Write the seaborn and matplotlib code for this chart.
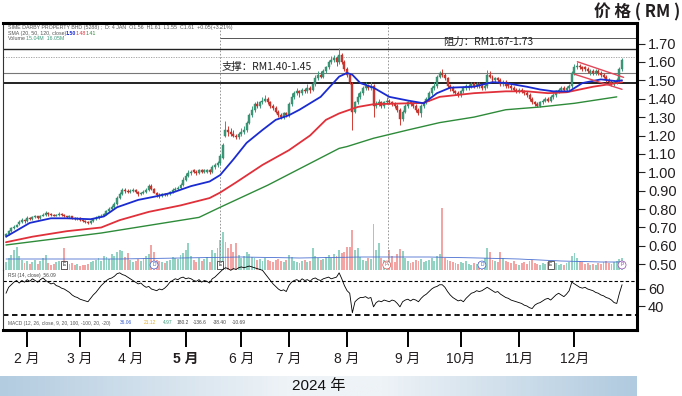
import numpy as np
import pandas as pd
import matplotlib
matplotlib.use("Agg")
import matplotlib.pyplot as plt
import seaborn as sns
from matplotlib.colors import LinearSegmentedColormap

# ---------------- data (daily, late Jan -> end Dec 2024) ----------------
opens = [
    0.655, 0.665, 0.680, 0.695, 0.705, 0.720, 0.730, 0.740, 0.735, 0.750,
    0.745, 0.755, 0.760, 0.750, 0.765, 0.770, 0.780, 0.775, 0.770, 0.765,
    0.770, 0.775, 0.770, 0.760, 0.755, 0.760, 0.750, 0.745, 0.750, 0.740,
    0.735, 0.730, 0.725, 0.735, 0.745, 0.750, 0.760, 0.765, 0.775, 0.790,
    0.800, 0.810, 0.830, 0.860, 0.880, 0.905, 0.900, 0.895, 0.900, 0.905,
    0.895, 0.880, 0.885, 0.895, 0.905, 0.925, 0.910, 0.890, 0.875, 0.870,
    0.880, 0.875, 0.880, 0.895, 0.905, 0.910, 0.915, 0.930, 0.960, 0.980,
    0.995, 1.01, 1.00, 0.995, 1.01, 1.00, 1.00, 1.01, 1.00, 1.03,
    1.04, 1.05, 1.08, 1.20, 1.23, 1.22, 1.21, 1.20, 1.19, 1.21,
    1.22, 1.23, 1.27, 1.31, 1.34, 1.37, 1.36, 1.38, 1.39, 1.40,
    1.38, 1.36, 1.35, 1.33, 1.31, 1.30, 1.32, 1.31, 1.37, 1.41,
    1.43, 1.44, 1.43, 1.45, 1.44, 1.46, 1.45, 1.48, 1.51, 1.53,
    1.52, 1.55, 1.57, 1.60, 1.61, 1.62, 1.60, 1.64, 1.60, 1.56,
    1.53, 1.48, 1.33, 1.38, 1.41, 1.43, 1.46, 1.47, 1.46, 1.47,
    1.36, 1.37, 1.38, 1.36, 1.38, 1.39, 1.38, 1.37, 1.36, 1.34,
    1.29, 1.33, 1.36, 1.38, 1.37, 1.36, 1.34, 1.32, 1.36, 1.38,
    1.40, 1.43, 1.46, 1.47, 1.52, 1.54, 1.53, 1.51, 1.47, 1.46,
    1.44, 1.43, 1.42, 1.44, 1.46, 1.46, 1.47, 1.48, 1.47, 1.48,
    1.47, 1.46, 1.47, 1.53, 1.52, 1.50, 1.51, 1.50, 1.48, 1.49,
    1.48, 1.47, 1.46, 1.45, 1.44, 1.45, 1.44, 1.43, 1.42, 1.40,
    1.38, 1.37, 1.36, 1.38, 1.39, 1.40, 1.39, 1.41, 1.42, 1.44,
    1.45, 1.46, 1.45, 1.46, 1.47, 1.54, 1.57, 1.58, 1.57, 1.57,
    1.56, 1.54, 1.55, 1.54, 1.55, 1.54, 1.53, 1.52, 1.50, 1.49,
    1.48, 1.49, 1.50, 1.56,
]
highs = [
    0.670, 0.685, 0.700, 0.715, 0.720, 0.740, 0.750, 0.745, 0.760, 0.755,
    0.765, 0.770, 0.765, 0.770, 0.780, 0.790, 0.785, 0.780, 0.775, 0.775,
    0.785, 0.780, 0.775, 0.765, 0.770, 0.765, 0.755, 0.755, 0.755, 0.745,
    0.740, 0.735, 0.740, 0.750, 0.760, 0.765, 0.775, 0.780, 0.795, 0.810,
    0.820, 0.840, 0.870, 0.895, 0.915, 0.915, 0.910, 0.910, 0.915, 0.910,
    0.900, 0.895, 0.905, 0.915, 0.935, 0.935, 0.915, 0.895, 0.885, 0.890,
    0.885, 0.890, 0.900, 0.915, 0.920, 0.925, 0.940, 0.975, 0.995, 1.01,
    1.01, 1.02, 1.01, 1.02, 1.02, 1.02, 1.02, 1.02, 1.04, 1.05,
    1.06, 1.10, 1.16, 1.28, 1.25, 1.24, 1.23, 1.21, 1.22, 1.24,
    1.25, 1.28, 1.32, 1.36, 1.38, 1.39, 1.39, 1.41, 1.42, 1.41,
    1.39, 1.37, 1.36, 1.34, 1.32, 1.33, 1.33, 1.38, 1.43, 1.44,
    1.46, 1.45, 1.46, 1.46, 1.48, 1.47, 1.49, 1.53, 1.55, 1.55,
    1.56, 1.58, 1.61, 1.63, 1.64, 1.63, 1.675, 1.65, 1.61, 1.57,
    1.54, 1.49, 1.39, 1.43, 1.44, 1.47, 1.49, 1.48, 1.49, 1.48,
    1.39, 1.40, 1.39, 1.39, 1.41, 1.40, 1.39, 1.38, 1.37, 1.35,
    1.34, 1.37, 1.39, 1.39, 1.38, 1.37, 1.35, 1.37, 1.39, 1.41,
    1.44, 1.47, 1.49, 1.53, 1.55, 1.56, 1.54, 1.52, 1.48, 1.47,
    1.45, 1.44, 1.45, 1.47, 1.48, 1.48, 1.49, 1.49, 1.49, 1.49,
    1.48, 1.48, 1.555, 1.55, 1.53, 1.52, 1.52, 1.51, 1.50, 1.50,
    1.49, 1.48, 1.47, 1.46, 1.46, 1.46, 1.45, 1.44, 1.43, 1.41,
    1.39, 1.38, 1.39, 1.40, 1.41, 1.41, 1.42, 1.43, 1.45, 1.46,
    1.47, 1.47, 1.47, 1.48, 1.55, 1.59, 1.60, 1.59, 1.58, 1.58,
    1.57, 1.56, 1.56, 1.56, 1.56, 1.55, 1.54, 1.53, 1.51, 1.50,
    1.50, 1.51, 1.57, 1.62,
]
lows = [
    0.650, 0.660, 0.675, 0.690, 0.700, 0.715, 0.725, 0.725, 0.730, 0.740,
    0.740, 0.750, 0.745, 0.745, 0.760, 0.765, 0.765, 0.765, 0.760, 0.760,
    0.765, 0.765, 0.755, 0.750, 0.750, 0.745, 0.740, 0.740, 0.735, 0.730,
    0.725, 0.720, 0.720, 0.730, 0.740, 0.745, 0.755, 0.760, 0.770, 0.785,
    0.795, 0.805, 0.825, 0.855, 0.875, 0.890, 0.890, 0.890, 0.895, 0.885,
    0.870, 0.875, 0.880, 0.890, 0.900, 0.905, 0.885, 0.865, 0.860, 0.865,
    0.870, 0.870, 0.875, 0.890, 0.900, 0.905, 0.910, 0.925, 0.955, 0.975,
    0.985, 0.995, 0.985, 0.990, 0.995, 0.995, 0.995, 0.990, 0.995, 1.02,
    1.03, 1.04, 1.07, 1.19, 1.20, 1.20, 1.19, 1.18, 1.18, 1.20,
    1.21, 1.22, 1.26, 1.30, 1.33, 1.35, 1.35, 1.37, 1.38, 1.37,
    1.35, 1.34, 1.32, 1.30, 1.29, 1.29, 1.30, 1.30, 1.36, 1.40,
    1.42, 1.41, 1.42, 1.43, 1.43, 1.43, 1.44, 1.47, 1.50, 1.51,
    1.51, 1.54, 1.56, 1.59, 1.60, 1.58, 1.59, 1.59, 1.55, 1.52,
    1.48, 1.23, 1.32, 1.37, 1.40, 1.42, 1.45, 1.45, 1.45, 1.30,
    1.35, 1.36, 1.35, 1.35, 1.37, 1.37, 1.36, 1.35, 1.33, 1.255,
    1.28, 1.32, 1.35, 1.36, 1.35, 1.33, 1.31, 1.30, 1.35, 1.37,
    1.39, 1.42, 1.45, 1.46, 1.51, 1.52, 1.50, 1.46, 1.44, 1.43,
    1.42, 1.41, 1.41, 1.43, 1.45, 1.45, 1.46, 1.46, 1.46, 1.46,
    1.45, 1.45, 1.46, 1.51, 1.49, 1.49, 1.49, 1.47, 1.47, 1.46,
    1.46, 1.45, 1.44, 1.43, 1.43, 1.43, 1.42, 1.41, 1.39, 1.37,
    1.36, 1.355, 1.355, 1.37, 1.38, 1.38, 1.38, 1.40, 1.41, 1.43,
    1.44, 1.44, 1.44, 1.45, 1.46, 1.53, 1.56, 1.56, 1.55, 1.55,
    1.54, 1.53, 1.53, 1.53, 1.53, 1.52, 1.51, 1.49, 1.48, 1.47,
    1.47, 1.48, 1.49, 1.55,
]
closes = [
    0.665, 0.680, 0.695, 0.705, 0.715, 0.730, 0.740, 0.735, 0.750, 0.745,
    0.755, 0.760, 0.750, 0.765, 0.770, 0.780, 0.775, 0.770, 0.765, 0.770,
    0.775, 0.770, 0.760, 0.755, 0.760, 0.750, 0.745, 0.750, 0.740, 0.735,
    0.730, 0.725, 0.735, 0.745, 0.750, 0.760, 0.765, 0.775, 0.790, 0.800,
    0.810, 0.830, 0.860, 0.880, 0.905, 0.900, 0.895, 0.900, 0.905, 0.895,
    0.880, 0.885, 0.895, 0.905, 0.925, 0.910, 0.890, 0.875, 0.870, 0.880,
    0.875, 0.880, 0.895, 0.905, 0.910, 0.915, 0.930, 0.960, 0.980, 0.995,
    1.00, 1.00, 0.995, 1.01, 1.00, 1.01, 1.01, 1.00, 1.03, 1.04,
    1.05, 1.09, 1.15, 1.23, 1.22, 1.21, 1.20, 1.19, 1.21, 1.22,
    1.23, 1.27, 1.31, 1.34, 1.37, 1.36, 1.38, 1.39, 1.40, 1.38,
    1.36, 1.35, 1.33, 1.31, 1.30, 1.32, 1.31, 1.37, 1.41, 1.43,
    1.44, 1.43, 1.45, 1.44, 1.46, 1.45, 1.48, 1.51, 1.53, 1.52,
    1.55, 1.57, 1.60, 1.61, 1.62, 1.60, 1.64, 1.60, 1.56, 1.53,
    1.49, 1.33, 1.38, 1.41, 1.43, 1.46, 1.47, 1.46, 1.47, 1.36,
    1.37, 1.38, 1.36, 1.38, 1.39, 1.38, 1.37, 1.36, 1.34, 1.29,
    1.33, 1.36, 1.38, 1.37, 1.36, 1.34, 1.32, 1.36, 1.38, 1.40,
    1.43, 1.46, 1.47, 1.52, 1.54, 1.53, 1.51, 1.47, 1.46, 1.44,
    1.43, 1.42, 1.44, 1.46, 1.47, 1.47, 1.48, 1.47, 1.48, 1.47,
    1.46, 1.47, 1.53, 1.52, 1.50, 1.51, 1.50, 1.48, 1.49, 1.47,
    1.47, 1.46, 1.45, 1.44, 1.45, 1.44, 1.43, 1.42, 1.40, 1.38,
    1.37, 1.36, 1.38, 1.39, 1.40, 1.39, 1.41, 1.42, 1.44, 1.45,
    1.46, 1.45, 1.46, 1.47, 1.54, 1.57, 1.58, 1.57, 1.56, 1.56,
    1.55, 1.55, 1.54, 1.55, 1.54, 1.53, 1.52, 1.50, 1.49, 1.48,
    1.49, 1.50, 1.56, 1.61,
]
volumes = [
    8, 12, 15, 20, 23, 14, 10, 7, 9, 6,
    8, 10, 6, 9, 12, 15, 7, 5, 6, 8,
    9, 7, 22, 8, 6, 7, 5, 6, 4, 5,
    5, 6, 8, 9, 10, 12, 9, 14, 13, 11,
    16, 14, 18, 20, 19, 13, 17, 10, 8, 9,
    11, 9, 12, 14, 16, 25, 18, 10, 9, 8,
    7, 9, 10, 13, 12, 11, 15, 17, 20, 27,
    14, 10, 8, 12, 9, 11, 13, 8, 20, 17,
    22, 30, 38, 28, 22, 26, 18, 27, 15, 12,
    14, 18, 16, 13, 12, 10, 11, 9, 12, 10,
    9, 8, 10, 11, 9, 8, 10, 15, 13, 9,
    8, 7, 9, 10, 8, 9, 22, 14, 12, 10,
    11, 13, 15, 12, 16, 14, 20, 17, 18, 23,
    23, 40, 20, 22, 13, 10, 9, 12, 11, 46,
    20, 27, 12, 10, 9, 20, 14, 8, 16, 21,
    19, 12, 9, 7, 8, 10, 9, 11, 8, 9,
    10, 12, 9, 14, 16, 62, 12, 10, 9, 8,
    7, 6, 8, 7, 9, 6, 5, 7, 6, 8,
    9, 12, 22, 18, 10, 9, 8, 18, 12, 9,
    8, 7, 9, 6, 5, 7, 8, 6, 9, 10,
    7, 6, 5, 7, 6, 8, 5, 6, 7, 5,
    6, 5, 7, 8, 14, 17, 12, 9, 8, 6,
    7, 5, 6, 5, 7, 6, 8, 9, 7, 6,
    8, 9, 11, 12,
]
rsi = [
    55, 62, 65, 68, 70, 67, 70, 68, 71, 69,
    72, 70, 68, 71, 73, 70, 68, 66, 67, 64,
    63, 61, 60, 58, 56, 53, 51, 50, 48, 47,
    46, 45, 49, 53, 56, 60, 64, 67, 70, 72,
    73, 75, 78, 79, 77, 76, 74, 72, 70, 68,
    66, 67, 64, 62, 63, 60, 59, 58, 60, 59,
    61, 64, 68, 70, 72, 71, 73, 74, 72, 73,
    72, 70, 69, 71, 68, 70, 69, 67, 72, 74,
    77, 80, 83, 85, 84, 82, 84, 83, 85, 86,
    85, 86, 87, 86, 85, 84, 83, 82, 78, 74,
    70, 66, 63, 60, 58, 59, 57, 64, 68, 70,
    71, 69, 72, 70, 71, 69, 72, 73, 71, 70,
    72, 73, 74, 72, 73, 74, 79, 72, 64, 58,
    55, 32, 45, 48, 50, 50, 51, 49, 50, 39,
    44, 46, 45, 47, 46, 45, 47, 46, 43, 39,
    45, 47, 48, 46, 48, 47, 45, 49, 52, 54,
    57, 60, 62, 63, 65, 65, 62, 57, 53, 50,
    48, 46, 47, 45, 49, 52, 55, 56, 58, 57,
    58, 60, 62, 60, 58, 56, 57, 54, 52, 50,
    49, 47, 46, 45, 44, 43, 41, 40, 38, 37,
    41, 43, 44, 46, 48, 49, 47, 50, 53, 55,
    53, 51, 54, 58, 68, 66, 64, 62, 61, 62,
    60, 59, 58, 56, 55, 53, 52, 50, 49, 47,
    44, 43, 55, 65,
]

# moving averages (read at sample days)
ma20_day = [0, 9, 17, 23, 32, 37, 42, 50, 57, 63, 70, 77, 81, 86, 91, 97, 102,
            107, 111, 119, 126, 129, 131, 134, 139, 145, 152, 158, 163, 168,
            177, 184, 189, 197, 202, 207, 213, 218, 225, 231, 233]
ma20_val = [0.65, 0.725, 0.75, 0.75, 0.745, 0.76, 0.81, 0.85, 0.87, 0.89, 0.925,
            0.95, 0.985, 1.07, 1.16, 1.23, 1.285, 1.31, 1.34, 1.41, 1.52, 1.54,
            1.53, 1.485, 1.46, 1.41, 1.39, 1.375, 1.43, 1.46, 1.465, 1.49,
            1.485, 1.465, 1.45, 1.44, 1.44, 1.485, 1.505, 1.495, 1.50]
ma50_day = [0, 10, 23, 36, 43, 54, 66, 77, 81, 87, 97, 107, 115, 121, 126,
            133, 139, 152, 158, 164, 177, 189, 197, 205, 212, 222, 231, 233]
ma50_val = [0.62, 0.65, 0.68, 0.70, 0.74, 0.785, 0.82, 0.86, 0.89, 0.945, 1.04,
            1.12, 1.20, 1.285, 1.32, 1.355, 1.37, 1.375, 1.377, 1.41, 1.43,
            1.44, 1.44, 1.43, 1.435, 1.465, 1.485, 1.49]
ma120_day = [0, 36, 73, 81, 99, 126, 129, 139, 152, 164, 177, 189, 202, 215, 231]
ma120_val = [0.605, 0.67, 0.755, 0.81, 0.93, 1.13, 1.14, 1.185, 1.23, 1.27,
             1.30, 1.34, 1.355, 1.375, 1.41]
volma_day = [0, 20, 43, 66, 89, 111, 134, 160, 179, 194, 210, 225, 233]
volma_val = [11, 11, 11, 12, 13, 12, 13, 13, 12, 11, 9, 8, 8]

# pennant (wedge) lines
wedge_up_day = [216.1, 233.6]
wedge_up_val = [1.601, 1.516]
wedge_lo_day = [214.8, 233.0]
wedge_lo_val = [1.534, 1.451]

resistance_lines = [1.73, 1.67]
support_lines = [1.54, 1.485]
dotted_level = 1.625
event_days = [80.9, 144.5]

month_day = [8, 28, 47, 68, 89, 107, 129, 152, 172, 194, 215]
month_labels = ["2 月", "3 月", "4 月", "5 月", "6 月", "7 月", "8 月", "9 月",
                "10月", "11月", "12月"]
price_ticks = [0.50, 0.60, 0.70, 0.80, 0.90, 1.00, 1.10, 1.20, 1.30, 1.40,
               1.50, 1.60, 1.70]
rsi_ticks = [40, 60]

markers = [(22, "E", "square", "#222222"), (56, "D", "circle", "#3a5fcd"),
           (81, "E", "square", "#222222"), (144, "P", "circle", "#d9534f"),
           (180, "D", "circle", "#3a5fcd"), (206, "E", "square", "#222222"),
           (233, "P", "circle", "#8e44ad")]

# ---------------- style ----------------
sns.set_theme(style="white")
plt.rcParams['font.family'] = ['Liberation Sans', 'Noto Sans CJK SC', 'DejaVu Sans']
plt.rcParams['axes.unicode_minus'] = False

W, H = 682, 396
fig = plt.figure(figsize=(W / 100, H / 100), dpi=100)
fig.patch.set_facecolor("white")


def fx(px):
    return px / W


def fy(py):
    return 1 - py / H


def ftext(px, py, s, **kw):
    fig.text(px / W, 1 - py / H, s, **kw)


L, R, T, MID, B = 3, 637, 23, 270, 330
PX0, PXD = 6.0, 2.644             # pixel of day 0, pixels per day
xlim = ((L - PX0) / PXD, (R - PX0) / PXD)

axv = fig.add_axes([fx(L), fy(MID), (R - L) / W, (MID - T) / H])
ax = fig.add_axes([fx(L), fy(MID), (R - L) / W, (MID - T) / H])
axr = fig.add_axes([fx(L), fy(B), (R - L) / W, (B - MID) / H])
ax.patch.set_alpha(0)
axv.patch.set_facecolor("white")

df = pd.DataFrame({"o": opens, "h": highs, "l": lows, "c": closes,
                   "v": volumes, "rsi": rsi})
df["day"] = np.arange(len(df))
up = df["c"] >= df["o"]

UP, DN = "#3d9c7c", "#d23a32"
VUP, VDN = "#93d3c3", "#f3a5a5"

# volume
axv.bar(df["day"], df["v"], width=0.72, color=np.where(up, VUP, VDN), linewidth=0)
sns.lineplot(x=volma_day, y=volma_val, ax=axv, color="#4a6fd0", lw=0.6)
axv.set_xlim(*xlim)
axv.set_ylim(0, MID - T)
axv.axis("off")
for d, s, shape, col in markers:
    axv.text(d, 5, s, fontsize=3.5, color=col, ha="center", va="center",
             bbox=dict(boxstyle=f"{shape},pad=0.3", fc="white", ec=col, lw=0.5))

# price reference lines
ax.axhline(resistance_lines[0], xmin=(220 - L) / (R - L), xmax=1, color="#555555", lw=0.7)
ax.axhline(resistance_lines[1], color="#222222", lw=1.0)
ax.axhline(dotted_level, color="#999999", lw=0.6, ls=(0, (1.5, 1.5)))
ax.axhline(support_lines[0], color="#777777", lw=0.8)
ax.axhline(support_lines[1], color="#111111", lw=1.3)
for d in event_days:
    ax.axvline(d, ymin=0.02, ymax=1, color="#888888", lw=0.6, ls=(0, (2, 2)))

# candles
ax.vlines(df["day"], df["l"], df["h"], colors=np.where(up, UP, DN), lw=0.7, zorder=3)
body = np.maximum((df["c"] - df["o"]).abs(), 0.003)
ax.bar(df["day"], body, bottom=np.minimum(df["o"], df["c"]), width=0.75,
       color=np.where(up, UP, DN), edgecolor=np.where(up, "#2f7f63", "#b02a25"),
       linewidth=0.3, zorder=3)

# moving averages
sns.lineplot(x=ma120_day, y=ma120_val, ax=ax, color="#2e8b3a", lw=1.0, zorder=4)
sns.lineplot(x=ma50_day, y=ma50_val, ax=ax, color="#e0303a", lw=1.3, zorder=4)
sns.lineplot(x=ma20_day, y=ma20_val, ax=ax, color="#1a2bd0", lw=1.3, zorder=5)
sns.lineplot(x=wedge_up_day, y=wedge_up_val, ax=ax, color="#e04658", lw=1.0, zorder=5)
sns.lineplot(x=wedge_lo_day, y=wedge_lo_val, ax=ax, color="#e04658", lw=1.0, zorder=5)

p_bottom = 1.70 - (MID - 43.5) / 184.0
p_top = 1.70 + (43.5 - T) / 184.0
ax.set_xlim(*xlim)
ax.set_ylim(p_bottom, p_top)
ax.set_xticks([])
ax.set_xlabel("")
ax.set_ylabel("")
ax.yaxis.tick_right()
ax.set_yticks(price_ticks)
ax.set_yticklabels([f"{t:.2f}" for t in price_ticks])
ax.tick_params(axis="y", direction="out", length=6, width=0.8, color="#222222",
               labelsize=10.5, labelcolor="#231f20", pad=2, right=True, left=False)
for sp in ["top", "right"]:
    ax.spines[sp].set_linewidth(2.2)
    ax.spines[sp].set_color("black")
ax.spines["left"].set_linewidth(0.8)
ax.spines["left"].set_color("#333333")
ax.spines["bottom"].set_visible(False)

# annotations
ax.text((222 - PX0) / PXD, 1.70 - (67 - 43.5) / 184.0, "支撑：RM1.40-1.45",
        fontsize=7.5, color="#222222", ha="left", va="center",
        family=["Noto Sans CJK SC", "DejaVu Sans"], zorder=6)
ax.text((443 - PX0) / PXD, 1.70 - (42 - 43.5) / 184.0, "阻力：RM1.67-1.73",
        fontsize=7.5, color="#222222", ha="left", va="center",
        family=["Noto Sans CJK SC", "DejaVu Sans"], zorder=6)

# RSI
sns.lineplot(x=df["day"], y=df["rsi"], ax=axr, color="black", lw=0.6)
for ln in axr.lines:
    ln.set_clip_on(False)
axr.axhline(70, color="black", lw=0.8, ls=(0, (3, 2)))
axr.axhline(30, color="black", lw=1.3, ls=(0, (3, 2)))
axr.set_xlim(*xlim)
axr.set_ylim(70 - (B - 280.5) / 0.85, 70 + (280.5 - MID) / 0.85)
axr.set_xlabel("")
axr.set_ylabel("")
axr.yaxis.tick_right()
axr.set_yticks(rsi_ticks)
axr.set_yticklabels([str(t) for t in rsi_ticks])
axr.tick_params(axis="y", direction="out", length=6, width=0.8, color="#222222",
                labelsize=10.5, labelcolor="#231f20", pad=2, right=True, left=False)
axr.set_xticks(month_day)
axr.set_xticklabels(month_labels)
axr.tick_params(axis="x", direction="out", length=12.5, width=1.4, color="black",
                labelsize=10, labelcolor="#231f20", pad=3, bottom=True)
for lab in axr.get_xticklabels():
    if lab.get_text() == "5 月":
        lab.set_fontweight("bold")
for sp in ["bottom", "right"]:
    axr.spines[sp].set_linewidth(2.2)
    axr.spines[sp].set_color("black")
axr.spines["left"].set_linewidth(0.8)
axr.spines["left"].set_color("#333333")
axr.spines["top"].set_visible(False)
axr.patch.set_alpha(0)

# header texts
ftext(8, 28, "SIME DARBY PROPERTY BHD (5288) ;  D: 4 JAN  O1.56  H1.61  L1.55  C1.61  +0.05(+3.21%)",
      fontsize=3.8, color="#555555", va="center")
ftext(8, 33.5, "SMA (20, 50, 120, close)", fontsize=3.8, color="#555555", va="center")
ftext(66, 33.5, "1.50", fontsize=3.8, color="#1a2bd0", va="center", fontweight="bold")
ftext(76, 33.5, "1.48", fontsize=3.8, color="#e0303a", va="center")
ftext(86, 33.5, "1.41", fontsize=3.8, color="#2e8b3a", va="center")
ftext(8, 39, "Volume", fontsize=3.8, color="#555555", va="center")
ftext(26, 39, "15.04M  16.05M", fontsize=3.8, color="#3d9c7c", va="center")
ftext(8, 276, "RSI (14, close)  56.09", fontsize=3.5, color="#444444", va="center")
ftext(8, 323, "MACD (12, 26, close, 9, 20, 100, -100, 20, -20)", fontsize=3.5,
      color="#555555", va="center")
for px, s, col in [(120, "36.06", "#3a5fcd"), (144, "21.12", "#e0b030"),
                   (163, "4.97", "#3d9c7c"), (177, "180.2", "#444444"),
                   (193, "-136.6", "#444444"), (213, "-38.40", "#444444"),
                   (232, "-10.69", "#444444")]:
    ftext(px, 323, s, fontsize=3.5, color=col, va="center")

# top-right unit label
ftext(680, 12, "价 格 ( RM )", fontsize=12, color="#231f20", ha="right", va="center",
      family=["Noto Sans CJK SC", "DejaVu Sans"], fontweight="bold")

# bottom banner with gradient
bax = fig.add_axes([0, 0, fx(R), 20 / H])
cmap = LinearSegmentedColormap.from_list(
    "band", [(0.0, "#b3cce0"), (0.45, "#eef3f7"), (0.6, "#eef3f7"), (1.0, "#b0cadf")])
bax.imshow(np.linspace(0, 1, 256)[None, :], aspect="auto", cmap=cmap,
           extent=(0, 1, 0, 1))
bax.set_xlim(0, 1)
bax.set_ylim(0, 1)
bax.axis("off")
bax.text(0.5, 0.5, "2024 年", fontsize=11, color="#111111", ha="center", va="center",
         family=["Liberation Sans", "Noto Sans CJK SC"])

fig.savefig("out.png", dpi=100, facecolor="white")
